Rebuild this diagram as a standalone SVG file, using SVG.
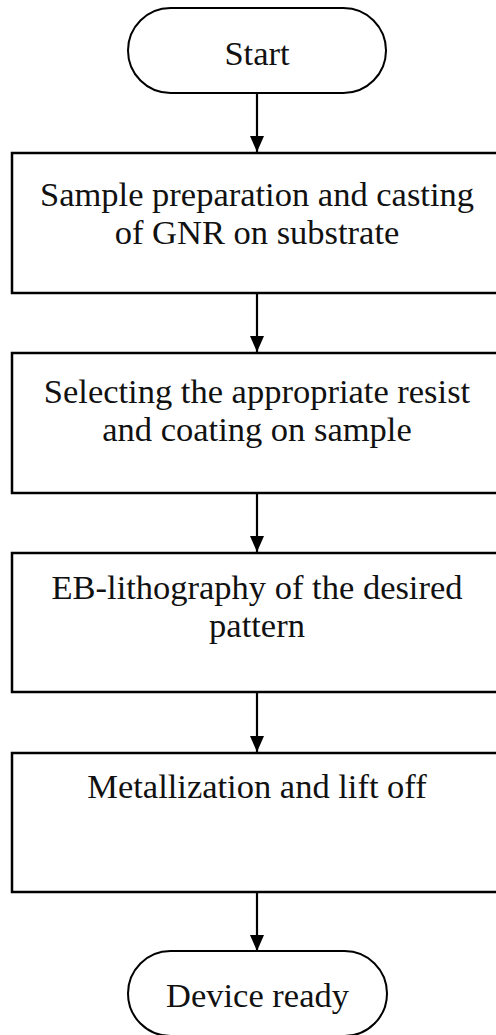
<svg xmlns="http://www.w3.org/2000/svg" width="496" height="1035" viewBox="0 0 496 1035">
<style>
.box{fill:#fff;stroke:#000;stroke-width:2.5}
.term{fill:#fff;stroke:#000;stroke-width:2}
.t{font-family:"Liberation Serif","Times New Roman",serif;font-size:34.5px;fill:#111;text-anchor:middle}
.c{stroke:#000;stroke-width:2.2;fill:none}
</style>
<defs>
<marker id="ah" viewBox="0 0 16 14" refX="16" refY="7" markerWidth="16" markerHeight="14" markerUnits="userSpaceOnUse" orient="auto">
<path d="M0,0 L16,7 L0,14 Z" fill="#000"/>
</marker>
</defs>
<rect width="496" height="1035" fill="#fff"/>
<g id="connectors">
<line class="c" x1="257" y1="93" x2="257" y2="152" marker-end="url(#ah)"/>
<line class="c" x1="257" y1="293" x2="257" y2="352" marker-end="url(#ah)"/>
<line class="c" x1="257" y1="493" x2="257" y2="552" marker-end="url(#ah)"/>
<line class="c" x1="257" y1="692" x2="257" y2="752" marker-end="url(#ah)"/>
<line class="c" x1="257" y1="892" x2="257" y2="951" marker-end="url(#ah)"/>
</g>
<g id="start">
<rect class="term" x="128" y="8" width="258" height="85" rx="42.5"/>
<text class="t" x="257" y="65">Start</text>
</g>
<g id="step1">
<rect class="box" x="12" y="153" width="492" height="140"/>
<text class="t" x="257" y="206">Sample preparation and casting</text>
<text class="t" x="257" y="244">of GNR on substrate</text>
</g>
<g id="step2">
<rect class="box" x="12" y="353" width="492" height="140"/>
<text class="t" x="257" y="403">Selecting the appropriate resist</text>
<text class="t" x="257" y="441">and coating on sample</text>
</g>
<g id="step3">
<rect class="box" x="12" y="553" width="492" height="139"/>
<text class="t" x="257" y="599">EB-lithography of the desired</text>
<text class="t" x="257" y="637">pattern</text>
</g>
<g id="step4">
<rect class="box" x="12" y="753" width="492" height="139"/>
<text class="t" x="257" y="798">Metallization and lift off</text>
</g>
<g id="end">
<rect class="term" x="128" y="951" width="259" height="85" rx="42.5"/>
<text class="t" x="257.5" y="1007">Device ready</text>
</g>
</svg>
